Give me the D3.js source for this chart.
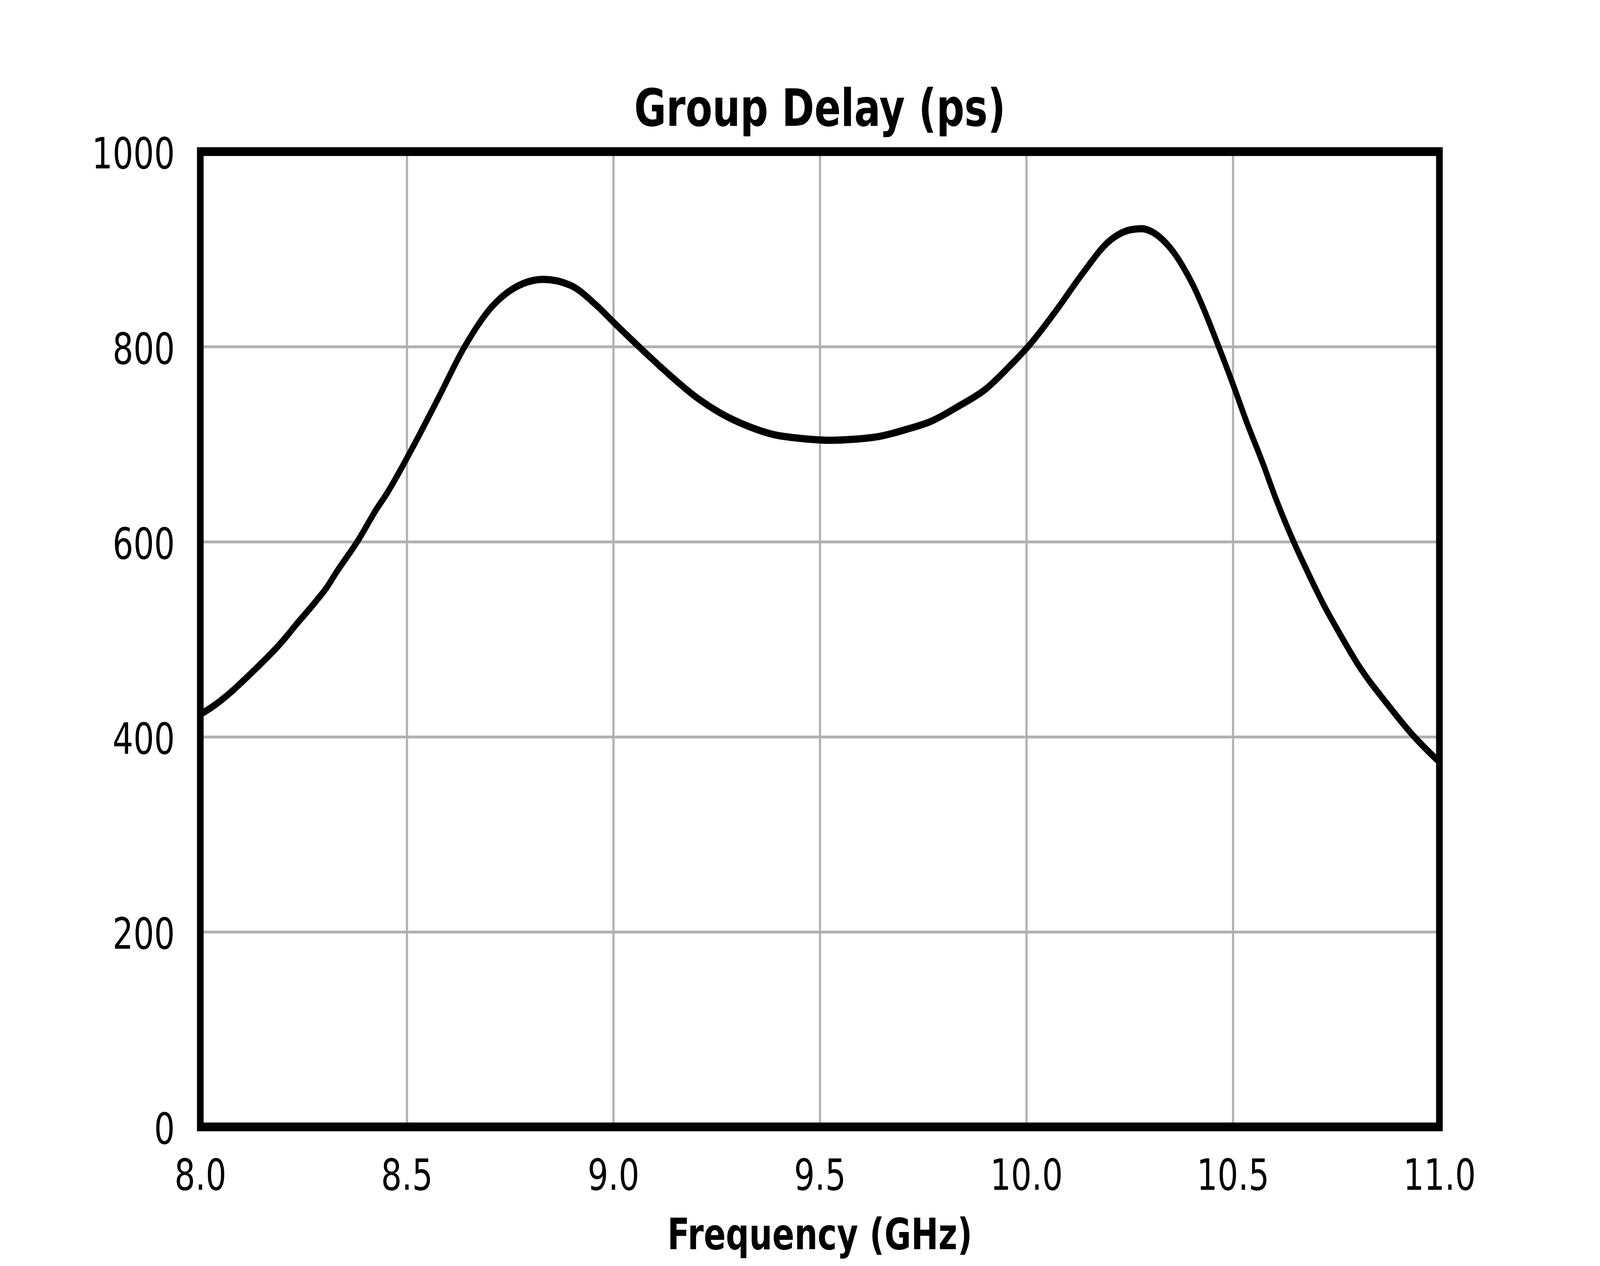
<!DOCTYPE html>
<html>
<head>
<meta charset="utf-8">
<script src="https://cdn.jsdelivr.net/npm/d3@7/dist/d3.min.js"></script>
<style>
  html, body { margin: 0; padding: 0; background: #ffffff; overflow: hidden; }
  svg { display: block; }
</style>
</head>
<body>
<script>
// ---- Data ----
const freqs = [8.000, 8.030, 8.130, 8.205, 8.230, 8.280, 8.306, 8.330, 8.380, 8.429,
               8.448, 8.512, 8.576, 8.640, 8.704, 8.768, 8.831, 8.896, 8.960, 9.003,
               9.067, 9.131, 9.195, 9.259, 9.323, 9.387, 9.452, 9.526, 9.580, 9.644,
               9.708, 9.772, 9.836, 9.900, 9.964, 10.008, 10.072, 10.136, 10.200, 10.254,
               10.280, 10.303, 10.329, 10.356, 10.382, 10.406, 10.430, 10.461, 10.498, 10.534,
               10.572, 10.605, 10.645, 10.682, 10.719, 10.761, 10.803, 10.873, 10.937, 11.000];
const delays = [423, 431, 468, 501, 514, 539, 553, 569, 600, 635,
                647, 695, 747, 800, 840, 862, 869, 863, 842, 824,
                798, 773, 750, 732, 719, 710, 706, 704, 705, 708,
                715, 724, 739, 756, 782, 802, 837, 875, 908, 920,
                921, 918, 910, 897, 880, 861, 838, 805, 764, 722,
                681, 643, 602, 568, 536, 504, 474, 434, 401, 374];
const xTicks = [8.0, 8.5, 9.0, 9.5, 10.0, 10.5, 11.0];
const yTicks = [0, 200, 400, 600, 800, 1000];
const titleText = "Group Delay (ps)";
const xLabelText = "Frequency (GHz)";

// ---- Layout (in 5400x3240 design units, mapped onto the viewport) ----
const W = 5400, H = 3240;
const pL = 676, pR = 4858, pT = 388, pB = 2884;
const FONT = "'DejaVu Sans', 'Liberation Sans', sans-serif";

const vw = window.innerWidth || W, vh = window.innerHeight || H;
const svg = d3.select("body").append("svg")
  .attr("width", vw).attr("height", vh)
  .attr("viewBox", `0 0 ${W} ${H}`)
  .attr("preserveAspectRatio", "none");
svg.append("rect").attr("width", W).attr("height", H).attr("fill", "#ffffff");

const x = d3.scaleLinear().domain([8, 11]).range([pL, pR]);
const y = d3.scaleLinear().domain([0, 1000]).range([pB, pT]);

// Grid lines
const gx = svg.append("g").attr("transform", `translate(0,${pB})`)
  .call(d3.axisBottom(x).tickValues(xTicks).tickSize(-(pB - pT)).tickFormat(""));
const gy = svg.append("g").attr("transform", `translate(${pL},0)`)
  .call(d3.axisLeft(y).tickValues(yTicks).tickSize(-(pR - pL)).tickFormat(""));
[gx, gy].forEach(g => {
  g.select(".domain").remove();
  g.selectAll(".tick line").attr("stroke", "#b0b0b0").attr("stroke-width", 7.3);
});

// Curve
const pts = freqs.map((f, i) => [f, delays[i]]);
const line = d3.line().x(d => x(d[0])).y(d => y(d[1])).curve(d3.curveMonotoneX);
svg.append("path").datum(pts)
  .attr("d", line)
  .attr("fill", "none")
  .attr("stroke", "#000000")
  .attr("stroke-width", 18.5)
  .attr("stroke-linejoin", "round");

// Frame
svg.append("rect")
  .attr("x", pL).attr("y", pT)
  .attr("width", pR - pL).attr("height", pB - pT)
  .attr("fill", "none").attr("stroke", "#000000").attr("stroke-width", 22.5);

// Tick labels
const xl = svg.append("g").attr("transform", `translate(0,${pB})`)
  .call(d3.axisBottom(x).tickValues(xTicks).tickSize(0).tickPadding(83).tickFormat(d3.format(".1f")));
const yl = svg.append("g").attr("transform", `translate(${pL},0)`)
  .call(d3.axisLeft(y).tickValues(yTicks).tickSize(0).tickPadding(86).tickFormat(d3.format("d")));
[xl, yl].forEach(g => {
  g.select(".domain").remove();
  g.selectAll(".tick line").remove();
  g.selectAll(".tick text")
    .attr("font-family", FONT)
    .attr("font-size", 110)
    .attr("fill", "#000000");
});
yl.selectAll(".tick text").attr("dy", "0.39em");

// Title and axis label
svg.append("text")
  .attr("x", (pL + pR) / 2).attr("y", 322)
  .attr("text-anchor", "middle")
  .attr("font-family", FONT).attr("font-weight", "bold").attr("font-size", 132)
  .attr("fill", "#000000")
  .text(titleText);
svg.append("text")
  .attr("x", (pL + pR) / 2).attr("y", 3197)
  .attr("text-anchor", "middle")
  .attr("font-family", FONT).attr("font-weight", "bold").attr("font-size", 110)
  .attr("fill", "#000000")
  .text(xLabelText);
</script>
</body>
</html>
